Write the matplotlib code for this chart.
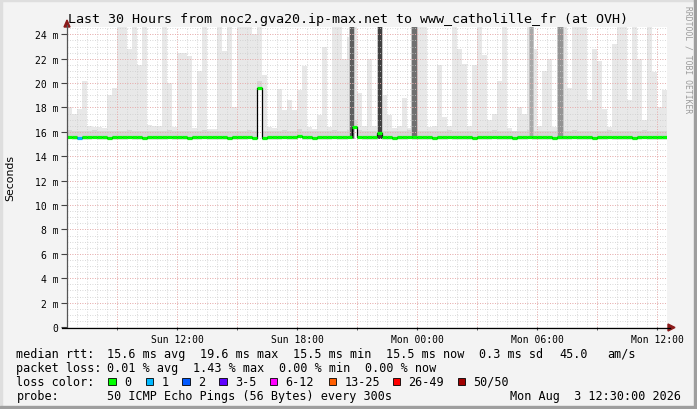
import numpy as np
import matplotlib.pyplot as plt
from matplotlib.patches import Rectangle, Polygon

# 30 hours, Sun 06:30 -> Mon 12:30, one slot = 15 min
title = 'Last 30 Hours from noc2.gva20.ip-max.net to www_catholille_fr (at OVH)'
tick_hours = [5.5, 11.5, 17.5, 23.5, 29.5]
tick_labels = ['Sun 12:00', 'Sun 18:00', 'Mon 00:00', 'Mon 06:00', 'Mon 12:00']

# top of the smoke (ms) per slot
smoke_top = [18.0, 17.5, 17.9, 20.2, 16.5, 16.4, 16.4, 16.3, 19.0, 19.6,
             24.6, 24.6, 22.8, 24.6, 21.5, 24.6, 16.6, 16.5, 16.5, 24.6,
             20.0, 16.4, 22.5, 22.5, 22.2, 16.3, 21.0, 24.6, 16.2, 16.2,
             24.6, 22.6, 24.6, 18.0, 24.6, 24.6, 24.6, 24.0, 24.6, 20.7,
             16.4, 16.3, 19.5, 17.8, 18.6, 17.8, 19.4, 21.4, 16.4, 16.2,
             17.4, 23.0, 16.4, 24.6, 24.6, 22.0, 23.8, 24.6, 19.2, 16.5,
             22.0, 16.5, 24.6, 19.0, 17.4, 16.3, 16.5, 18.8, 16.3, 24.6,
             24.6, 24.6, 16.4, 16.5, 21.5, 17.2, 16.5, 24.6, 22.8, 21.6,
             16.5, 21.5, 24.6, 22.3, 17.0, 17.5, 20.2, 24.6, 16.3, 16.1,
             18.0, 17.5, 24.6, 22.8, 16.5, 21.0, 22.0, 16.4, 24.6, 24.6,
             19.6, 24.6, 24.6, 24.6, 18.6, 22.8, 21.8, 17.9, 16.4, 23.2,
             24.6, 24.6, 18.6, 24.6, 22.0, 17.0, 24.6, 20.9, 18.0, 19.4]

# median rtt (ms) per slot
median = [15.6, 15.55, 15.5, 15.55, 15.55, 15.6, 15.55, 15.55, 15.5, 15.55,
          15.55, 15.55, 15.6, 15.55, 15.55, 15.5, 15.55, 15.55, 15.55, 15.55,
          15.6, 15.55, 15.55, 15.55, 15.5, 15.55, 15.55, 15.6, 15.55, 15.55,
          15.55, 15.55, 15.5, 15.55, 15.55, 15.55, 15.6, 15.5, 19.6, 15.5,
          15.55, 15.55, 15.55, 15.6, 15.55, 15.55, 15.7, 15.55, 15.55, 15.5,
          15.55, 15.55, 15.55, 15.6, 15.55, 15.55, 15.6, 16.4, 15.6, 15.55,
          15.55, 15.55, 15.9, 15.55, 15.55, 15.5, 15.55, 15.55, 15.6, 15.55,
          15.55, 15.55, 15.55, 15.5, 15.55, 15.55, 15.6, 15.55, 15.55, 15.55,
          15.55, 15.5, 15.55, 15.55, 15.55, 15.6, 15.55, 15.55, 15.55, 15.5,
          15.55, 15.55, 15.6, 15.55, 15.55, 15.55, 15.55, 15.5, 15.55, 15.55,
          15.55, 15.6, 15.55, 15.55, 15.55, 15.5, 15.55, 15.55, 15.6, 15.55,
          15.55, 15.55, 15.55, 15.5, 15.55, 15.6, 15.55, 15.55, 15.55, 15.55]

# slots with packet loss and the loss count
loss_slot = [2]
loss_count = [1]

# dark smoke spikes: start hour, width (h), grey
dark_start = [14.15, 15.55, 17.25, 23.15, 24.55]
dark_width = [0.2, 0.2, 0.25, 0.15, 0.25]
dark_grey = ['#5e5e5e', '#404040', '#707070', '#a8a8a8', '#949494']

loss_names = ['0', '1', '2', '3-5', '6-12', '13-25', '26-49', '50/50']
loss_colors = ['#00ff00', '#00b8ff', '#0059ff', '#5e00ff', '#ff00ff',
               '#ff5e00', '#ff0000', '#a10000']

W, H = 697, 410
fig = plt.figure(figsize=(W / 100, H / 100), dpi=100)

# background canvas + 3d border
bg = fig.add_axes([0, 0, 1, 1], zorder=0)
bg.set_xlim(0, W)
bg.set_ylim(H, 0)
bg.axis('off')
bg.add_patch(Rectangle((0, 0), W, H, color='#f3f3f3'))
bg.add_patch(Rectangle((0, 0), W, 2, color='#dedede'))
bg.add_patch(Rectangle((0, 0), 2, H, color='#dedede'))
bg.add_patch(Rectangle((0, H - 3), W, 3, color='#9e9e9e'))
bg.add_patch(Rectangle((W - 3, 0), 3, H, color='#9e9e9e'))

ax = fig.add_axes([67 / W, (H - 328) / H, 600 / W, 300 / H], zorder=1)
ax.set_facecolor('white')
ax.set_xlim(0, 30)
ax.set_ylim(0, 24.6)
for s in ax.spines.values():
    s.set_visible(False)

n = len(smoke_top)
left = np.arange(n) * 0.25
med = np.array(median)
top = np.array(smoke_top)

# smoke
ax.bar(left, top - (med - 0.2), bottom=med - 0.2, width=0.25, align='edge',
       color='#e8e8e8', lw=0, zorder=1)
inner = np.minimum(top, med + 0.55)
ax.bar(left, inner - (med - 0.1), bottom=med - 0.1, width=0.25, align='edge',
       color='#d6d6d6', lw=0, zorder=1)
for s0, w, g in zip(dark_start, dark_width, dark_grey):
    ax.bar(s0 - 0.05, 24.6 - 15.4, bottom=15.4, width=w + 0.1, align='edge',
           color='#c4c4c4', lw=0, zorder=1)
    ax.bar(s0, 24.6 - 15.4, bottom=15.4, width=w, align='edge',
           color=g, lw=0, zorder=1)

# grid
for h in np.arange(0.5, 30, 0.5):
    ax.axvline(h, color='#cccccc', lw=0.6, ls=(0, (1, 2)), zorder=2)
for v in np.arange(0.5, 24.6, 0.5):
    ax.axhline(v, color='#cccccc', lw=0.6, ls=(0, (1, 2)), zorder=2)
for h in np.arange(2.5, 30, 3):
    ax.axvline(h, color='#f2a0a0', lw=0.6, ls=(0, (1, 2)), zorder=2)
for v in np.arange(2, 24.6, 2):
    ax.axhline(v, color='#f2a0a0', lw=0.6, ls=(0, (1, 2)), zorder=2)

# median line: black steps, coloured by loss
edges = np.append(left, 30)
ax.step(edges, np.append(med, med[-1]), where='post', color='black', lw=0.9, zorder=3)
seg_colors = [loss_colors[0]] * n
for i, c in zip(loss_slot, loss_count):
    seg_colors[i] = loss_colors[c]
ax.hlines(med, left, left + 0.25, colors=seg_colors, lw=2.3, zorder=4)

ax.set_xticks(tick_hours)
ax.set_xticklabels(tick_labels, family='DejaVu Sans Mono', fontsize=7)
ax.set_xticks(np.arange(2.5, 30, 3), minor=True)
ax.set_yticks(np.arange(0, 25, 2))
ax.set_yticklabels(['0'] + ['%d m' % v for v in range(2, 25, 2)],
                   family='DejaVu Sans Mono', fontsize=7)
ax.tick_params(axis='x', which='both', length=2, pad=3, color='#444444')
ax.tick_params(axis='y', length=4, pad=2, color='#444444')

# foreground: axes lines, arrows, texts
fg = fig.add_axes([0, 0, 1, 1], zorder=2)
fg.set_xlim(0, W)
fg.set_ylim(H, 0)
fg.axis('off')
fg.patch.set_alpha(0)
fg.plot([67, 67], [328, 26], color='#555555', lw=0.9)
fg.plot([62, 670], [328.5, 328.5], color='black', lw=0.9)
fg.add_patch(Polygon([[64, 28], [70, 28], [67, 21]], color='#8b1a1a'))
fg.add_patch(Polygon([[668, 325], [668, 332], [675, 328.5]], color='#8b1a1a'))

mono = 'DejaVu Sans Mono'
fg.text(348.5, 19.5, title, ha='center', va='center', family=mono, fontsize=9.6)
fg.text(10, 178, 'Seconds', rotation=90, ha='center', va='center', fontsize=7.8)
fg.text(688, 60, 'RRDTOOL / TOBI OETIKER', rotation=270, ha='center', va='center',
        family=mono, fontsize=5.8, color='#9a9a9a')

lg = dict(family=mono, fontsize=8.5, va='center', ha='left')
y1, y2, y3, y4 = 354.5, 368.5, 382.5, 396.5
fg.text(16.5, y1, 'median rtt:', **lg)
fg.text(107, y1, '15.6 ms avg', **lg)
fg.text(200, y1, '19.6 ms max', **lg)
fg.text(293, y1, '15.5 ms min', **lg)
fg.text(386, y1, '15.5 ms now', **lg)
fg.text(479, y1, '0.3 ms sd', **lg)
fg.text(559, y1, '45.0', **lg)
fg.text(607, y1, 'am/s', **lg)

fg.text(16.5, y2, 'packet loss:', **lg)
fg.text(107, y2, '0.01 % avg', **lg)
fg.text(193, y2, '1.43 % max', **lg)
fg.text(279, y2, '0.00 % min', **lg)
fg.text(365, y2, '0.00 % now', **lg)

fg.text(16.5, y3, 'loss color:', **lg)
box_x = [108.3, 145.7, 182.3, 219.3, 270, 329, 393, 458]
for bx, name, col in zip(box_x, loss_names, loss_colors):
    fg.add_patch(Rectangle((bx, y3 - 3.8), 7.4, 7.4, facecolor=col,
                           edgecolor='black', lw=0.6))
    fg.text(bx + 15.5, y3, name, **lg)

fg.text(16.5, y4, 'probe:', **lg)
fg.text(107, y4, '50 ICMP Echo Pings (56 Bytes) every 300s', **lg)
fg.text(681, y4, 'Mon Aug  3 12:30:00 2026', family=mono, fontsize=8.5,
        va='center', ha='right')

fig.savefig('out.png', dpi=100)
